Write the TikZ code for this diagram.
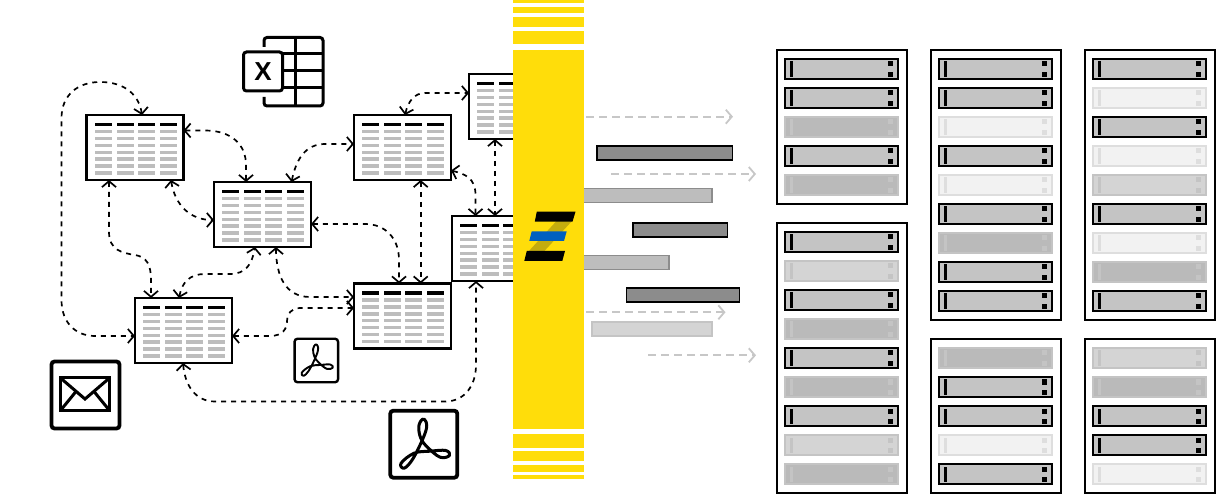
\documentclass[tikz,border=0pt]{standalone}
\usepackage{fontspec}
\setsansfont{Liberation Sans}
\usetikzlibrary{arrows.meta}
\definecolor{bandyellow}{HTML}{FFDD0A}
\definecolor{banddark}{HTML}{C4AC0E}
\definecolor{logoblue}{HTML}{0060C0}
\definecolor{rowgray}{HTML}{BDBDBD}
\tikzset{
  tablebox/.style={draw=black, fill=white, line width=2.1pt, inner sep=0pt, outer sep=0pt, minimum width=97pt, minimum height=65pt},
  link/.style={draw=black, line width=1.7pt, dash pattern=on 5pt off 5pt, {Straight Barb[length=6pt,width=14pt]}-{Straight Barb[length=6pt,width=14pt]}},
  flowarrow/.style={draw=rowgray!85, line width=1.8pt, dash pattern=on 8pt off 5pt, -{Straight Barb[length=6pt,width=14pt]}},
  rackbox/.style={draw=black, fill=white, line width=1.8pt, inner sep=0pt, outer sep=0pt, minimum width=130pt},
  server/.style={line width=2pt, inner sep=0pt, outer sep=0pt, minimum width=113pt, minimum height=20pt},
  srvon/.style={fill=black!23, draw=black},
  srvonmark/.style={fill=black},
  srvdim/.style={fill=black!27, draw=black!23},
  srvdimmark/.style={fill=black!23},
  srvpale/.style={fill=black!17, draw=black!23},
  srvpalemark/.style={fill=black!23},
  srvoff/.style={fill=black!5, draw=black!13},
  srvoffmark/.style={fill=black!13},
  iconbox/.style={draw=black, fill=white, rounded corners=3pt, inner sep=0pt, outer sep=0pt},
  pdfglyph/.pic={
    \draw[line cap=round, line join=round, pic actions] plot[smooth cycle, tension=0.65] coordinates {(-1.3,-25) (-5,-17.7) (-3,-6) (3.7,3) (16.3,13) (25.7,11.3) (22,6.3) (6.3,7) (-9.7,9) (-22.7,19) (-19.7,24) (-12,16.3) (-3.7,0.7) (2.3,-14.3) (2.3,-22.3)};
  }
}
\newcommand{\datatable}[3]{
  \node[tablebox] (#1) at (#2,#3) {};
  \begin{scope}[shift={(#1.north west)}]
    \foreach \cx in {8,30,51,73} {
      \fill[black] (\cx,8) rectangle ++(17,3.5);
      \foreach \ry in {15,21.9,28.7,35.6,42.4,49.3,56.2}
        \fill[rowgray] (\cx,\ry) rectangle ++(17,3.4);
    }
  \end{scope}
}
\newcommand{\serverrow}[4]{
  \node[server, srv#4] (#1) at (#2+7.5+57,#3+10.5) {};
  \fill[srv#4mark] ([xshift=5pt,yshift=-2.5pt]#1.north west) rectangle ++(3.3,15.5);
  \fill[srv#4mark] ([xshift=-10pt,yshift=-2.5pt]#1.north east) rectangle ++(5,5);
  \fill[srv#4mark] ([xshift=-10pt,yshift=-13pt]#1.north east) rectangle ++(5,5);
}
\newcommand{\rack}[5]{
  \node[rackbox, minimum height=#4pt] (#1) at (#2+65,#3+#4/2) {};
  \foreach \st [count=\i from 0] in {#5}
    \serverrow{#1s\i}{#2}{#3+8.5+29*\i}{\st};
}
\begin{document}
\begin{tikzpicture}[x=1pt,y=-1pt]
\useasboundingbox (0,0) rectangle (1216,494);

\datatable{T1}{135}{147.5}
\datatable{T2}{262.5}{214.5}
\datatable{T3}{402.5}{147.5}
\datatable{T4}{517.5}{106.5}
\datatable{T5}{500.5}{248.5}
\datatable{T6}{402.5}{316}
\datatable{T7}{183.5}{330.5}

\draw[link] ([xshift=7pt]T1.north) .. controls (139,95) and (125,82) .. (100,82) .. controls (78,82) and (61.5,95) .. (61.5,118) -- (61.5,300) .. controls (61.5,322) and (75,336) .. (95,336) -- ([yshift=-5.5pt]T7.west);
\draw[link] ([yshift=17pt]T1.east) -- (205,130.5) .. controls (232,130.5) and (246,145) .. (246,165) -- ([xshift=-16.5pt]T2.north);
\draw[link] ([xshift=36pt]T1.south) .. controls (175,205) and (190,220) .. ([yshift=-5.5pt]T2.west);
\draw[link] ([xshift=-26pt]T1.south) -- (109,232) .. controls (109,250) and (122,253) .. (135,255) .. controls (147,257) and (151,265) .. (151,280) -- ([xshift=-32.5pt]T7.north);
\draw[link] ([xshift=-4.5pt]T7.north) .. controls (182,282) and (190,274) .. (205,274) -- (230,274) .. controls (246,274) and (252,264) .. ([xshift=-7.5pt]T2.south);
\draw[link] ([xshift=13.5pt]T2.south) .. controls (276,275) and (285,297) .. (310,297) -- ([yshift=19pt]T6.west);
\draw[link] ([yshift=-5.5pt]T7.east) -- (270,336) .. controls (283,336) and (287,328) .. (287,322) .. controls (287,314) and (291,308) .. (300,308) -- ([yshift=8pt]T6.west);
\draw[link] ([yshift=-9.5pt]T2.east) -- (365,224) .. controls (385,224) and (399,238) .. (399,260) -- ([xshift=-3.5pt]T6.north);
\draw[link] ([xshift=18.2pt]T3.south) -- ([xshift=18.2pt]T6.north);
\draw[link] ([yshift=-23pt]T3.east) .. controls (465,174) and (475.5,178) .. (475.5,195) -- ([xshift=-25pt]T5.north);
\draw[link] ([xshift=-22.5pt]T4.south) -- ([xshift=-5.5pt]T5.north);
\draw[link] ([xshift=2.5pt]T3.north) .. controls (408,102) and (414,93) .. (425,93) -- ([yshift=13.5pt]T4.west);
\draw[link] ([xshift=29pt]T2.north) .. controls (296,160) and (305,144) .. (325,144) -- ([yshift=3.5pt]T3.west);
\draw[link] ([xshift=-0.5pt]T7.south) .. controls (185,385) and (195,401.5) .. (215,401.5) -- (445,401.5) .. controls (465,401.5) and (476,385) .. (476,365) -- ([xshift=-24.5pt]T5.south);

\draw[line width=3pt, rounded corners=3pt] (264,47) -- (264,37.5) -- (323,37.5) -- (323,106) -- (264,106) -- (264,97);
\draw[line width=3pt] (295,37.5) -- (295,106);
\foreach \ly in {54,71,88}
  \draw[line width=3pt] (280,\ly) -- (323,\ly);
\node[iconbox, line width=3pt, minimum width=39pt, minimum height=39pt, font=\sffamily\bfseries\fontsize{26}{26}\selectfont] (xlbox) at (263,71.5) {X};

\node[iconbox, line width=3.8pt, minimum width=68pt, minimum height=67pt] (mailbox) at (85.5,395) {};
\draw[line width=3pt] (60.5,378) rectangle (109.5,410.5);
\draw[line width=3pt] (60.5,378) -- (85,399) -- (109.5,378);
\draw[line width=3pt] (60.5,410.5) -- (76,391.5);
\draw[line width=3pt] (109.5,410.5) -- (94,391.5);

\node[iconbox, line width=2.4pt, minimum width=43.5pt, minimum height=43.5pt] (pdfsmall) at (316.3,360.5) {};
\pic[scale=0.64, line width=1.9pt] at (pdfsmall) {pdfglyph};
\node[iconbox, line width=3.8pt, minimum width=67pt, minimum height=67pt] (pdfbig) at (423.8,444.2) {};
\pic[line width=3pt] at (pdfbig) {pdfglyph};

\foreach \xa/\ya/\xb/\yb/\bfill/\bdraw in {
  597/146/732.5/160/black!45/black,
  575/188.5/712/202.5/rowgray/black!45,
  633/223/727.5/237/black!45/black,
  575/255.5/669/269.5/rowgray/black!45,
  626.5/288/739.5/302/black!45/black,
  592/322/712/336/black!17/black!23}
  \draw[fill=\bfill, draw=\bdraw, line width=1.8pt] (\xa,\ya) rectangle (\xb,\yb);

\foreach \xa/\ya/\xb [count=\i] in {586/116.7/733, 611/174/756, 586/312.3/725.5, 648/355.3/756} {
  \coordinate (from\i) at (\xa,\ya);
  \coordinate (to\i) at (\xb,\ya);
  \draw[flowarrow] (from\i) -- (to\i);
}

\foreach \ya/\yb in {0/3, 6.7/13.3, 17.3/27.3, 31/44.3, 50/429, 434/448, 451.3/461.3, 465/471.7, 475.3/478.7}
  \fill[bandyellow] (513,\ya) rectangle (584,\yb);

\fill[banddark] (572,221) -- (556.5,221) -- (528,252) -- (543.5,252) -- cycle;
\fill[black] (536.8,211.7) -- (575.5,211.7) -- (572.5,221.7) -- (534.8,221.7) -- cycle;
\fill[logoblue] (531.7,231.3) -- (566.7,231.3) -- (564,241) -- (529.3,241) -- cycle;
\fill[black] (526.8,251) -- (565,251) -- (562.3,261) -- (524.3,261) -- cycle;

\rack{R1}{777}{50}{154}{on,on,dim,on,dim}
\rack{R2}{777}{223}{270}{on,pale,on,dim,on,dim,on,pale,dim}
\rack{R3}{931}{50}{270}{on,on,off,on,off,on,dim,on,on}
\rack{R4}{1085}{50}{270}{on,off,on,off,pale,on,off,dim,on}
\rack{R5}{931}{339}{154}{dim,on,on,off,on}
\rack{R6}{1085}{339}{154}{pale,dim,on,on,off}
\end{tikzpicture}
\end{document}
